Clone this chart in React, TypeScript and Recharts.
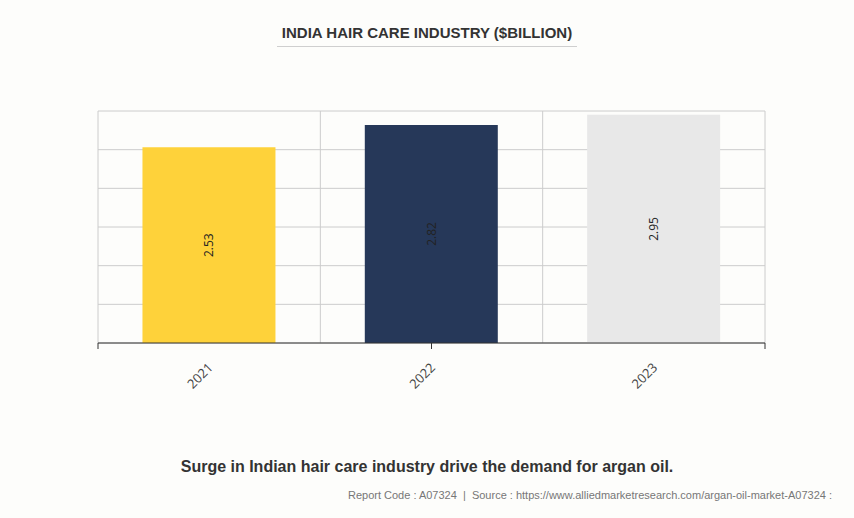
import React from "react";
import { BarChart, Bar, XAxis, YAxis, CartesianGrid, Cell, LabelList } from "recharts";

const years = ["2021", "2022", "2023"];
const values = [2.53, 2.82, 2.95];
const colors = ["#FED23A", "#263859", "#E8E8E8"];
const yTicks = [0, 0.5, 1, 1.5, 2, 2.5, 3];
const boundaryTicks = [0, 1, 2, 3];

const data = years.map((y, i) => ({ year: y, value: values[i] }));

const XTick = (props: any) => {
  const { x, y, payload } = props;
  return (
    <g transform={`translate(${x + 1},${y + 13}) rotate(-45)`}>
      <text x={0} y={0} textAnchor="end" dominantBaseline="central" fill="#444" fontSize={13} fontFamily="'Open Sans', sans-serif">
        {payload.value}
      </text>
    </g>
  );
};

const EmptyTick = () => <g />;

const BarLabel = (props: any) => {
  const { x, y, width, height, value } = props;
  const cx = x + width / 2;
  const cy = y + height / 2;
  return (
    <text x={cx} y={cy} transform={`rotate(-90, ${cx}, ${cy})`} textAnchor="middle" dominantBaseline="central" fill="#222" fontSize={12} fontFamily="'Open Sans', sans-serif">
      {value}
    </text>
  );
};

export default function App() {
  return (
    <div style={{ position: "absolute", left: 0, top: 0, width: 854, height: 518, background: "#FDFDFB", fontFamily: "'Liberation Sans', Arial, sans-serif" }}>
      <div style={{ position: "absolute", left: 0, width: 854, top: 24, textAlign: "center", fontSize: 15, fontWeight: "bold", color: "#333" }}>
        INDIA HAIR CARE INDUSTRY ($BILLION)
      </div>
      <div style={{ position: "absolute", left: 277, width: 300, top: 46, height: 1, background: "#cfcfcf" }} />
      <div style={{ position: "absolute", left: 0, top: 0 }}>
        <BarChart width={854} height={518} data={data} margin={{ top: 111, right: 89, left: 98, bottom: 134 }} barCategoryGap="20%">
          <CartesianGrid
            stroke="#cccccc"
            xAxisId="a"
            yAxisId="y"
            verticalCoordinatesGenerator={({ offset }: any) => boundaryTicks.map((t) => offset.left + (offset.width * t) / 3)}
          />
          <XAxis xAxisId="a" type="number" orientation="bottom" domain={[0, 3]} ticks={boundaryTicks} allowDataOverflow tick={<EmptyTick />} height={1} tickSize={6} axisLine={{ stroke: "#333" }} tickLine={{ stroke: "#333" }} />
          <XAxis xAxisId="b" dataKey="year" height={40} tick={<XTick />} tickLine={false} axisLine={false} interval={0} />
          <YAxis yAxisId="y" hide domain={[0, 3]} ticks={yTicks} />
          <Bar dataKey="value" xAxisId="b" yAxisId="y" isAnimationActive={false}>
            {data.map((d, i) => (
              <Cell key={d.year} fill={colors[i]} />
            ))}
            <LabelList dataKey="value" content={<BarLabel />} />
          </Bar>
        </BarChart>
      </div>
      <div style={{ position: "absolute", left: 0, width: 854, top: 458, textAlign: "center", fontSize: 16, fontWeight: "bold", color: "#333" }}>
        Surge in Indian hair care industry drive the demand for argan oil.
      </div>
      <div style={{ position: "absolute", right: 22, top: 489, fontSize: 11, color: "#777" }}>
        Report Code : A07324&nbsp; | &nbsp;Source : https://www.alliedmarketresearch.com/argan-oil-market-A07324 :
      </div>
    </div>
  );
}
